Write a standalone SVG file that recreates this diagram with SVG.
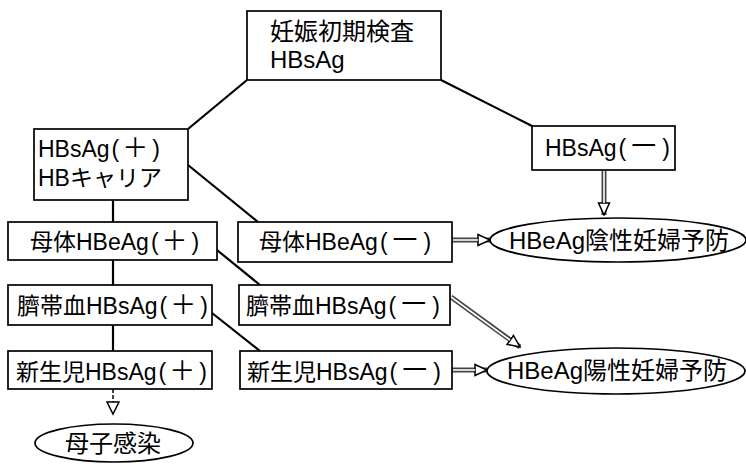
<svg xmlns="http://www.w3.org/2000/svg" width="746" height="464" viewBox="0 0 746 464">
<defs>
<style>
.box{fill:#fff;stroke:#000;stroke-width:1.7}
.el{fill:#fff;stroke:#000;stroke-width:1.7}
.t{font-family:"Liberation Sans","Noto Sans CJK JP",sans-serif;font-size:23px;fill:#000}
.tl{font-size:24px}
.S{font-size:26px}
.M{font-size:31px}
.ln{stroke:#000;stroke-width:2.2;fill:none}
.sh{stroke:#444;stroke-width:5;fill:none}
.shi{stroke:#fff;stroke-width:1.6;fill:none}
</style>
<marker id="ah" viewBox="0 0 14 14" refX="13" refY="7" markerWidth="14" markerHeight="14" markerUnits="userSpaceOnUse" orient="auto">
<path d="M1,1.5 L13,7 L1,12.5 Z" fill="#fff" stroke="#000" stroke-width="1.5"/>
</marker>
</defs>
<rect width="746" height="464" fill="#fff"/>
<g id="connectors">
<line class="ln" x1="247" y1="80" x2="188" y2="129"/>
<line class="ln" x1="441" y1="80" x2="532" y2="126"/>
<line class="ln" x1="188" y1="165" x2="258" y2="222"/>
<line class="ln" x1="113" y1="200" x2="113" y2="222"/>
<line class="ln" x1="212" y1="246" x2="260" y2="285"/>
<line class="ln" x1="113" y1="260" x2="113" y2="285"/>
<line class="ln" x1="212" y1="313" x2="260" y2="351"/>
<line class="ln" x1="113" y1="325" x2="113" y2="351"/>
<line class="sh" x1="604" y1="171" x2="604" y2="215" marker-end="url(#ah)"/>
<line class="shi" x1="604" y1="171" x2="604" y2="203"/>
<line class="sh" x1="452" y1="240" x2="490" y2="240" marker-end="url(#ah)"/>
<line class="shi" x1="452" y1="240" x2="478" y2="240"/>
<line class="sh" x1="451" y1="297" x2="520" y2="347" marker-end="url(#ah)"/>
<line class="shi" x1="451" y1="297" x2="510" y2="340"/>
<line class="sh" x1="452" y1="370" x2="487" y2="370" marker-end="url(#ah)"/>
<line class="shi" x1="452" y1="370" x2="475" y2="370"/>
<line stroke="#444" stroke-width="2" stroke-dasharray="4,2" x1="113" y1="389" x2="113" y2="403"/>
<path d="M107,402 L119,402 L113,414 Z" fill="#fff" stroke="#000" stroke-width="1.5"/>
</g>
<g id="n_top">
<rect class="box" x="247" y="11" width="194" height="69"/>
<text class="t tl" x="270" y="40">妊娠初期検査</text>
<text class="t tl" x="270" y="68">HBsAg</text>
</g>
<g id="n_pos">
<rect class="box" x="34" y="129" width="154" height="71"/>
<text class="t" x="38" y="157">HBsAg<tspan dx="2">(</tspan><tspan class="S" dx="3">＋</tspan><tspan dx="4">)</tspan></text>
<text class="t" x="38" y="186">HBキャリア</text>
</g>
<g id="n_neg">
<rect class="box" x="532" y="126" width="143" height="44"/>
<text class="t" x="545" y="156">HBsAg<tspan dx="2">(</tspan><tspan class="M" dx="2">－</tspan><tspan dx="3">)</tspan></text>
</g>
<g id="n_mpos">
<rect class="box" x="8" y="222" width="209" height="38"/>
<text class="t" x="30" y="250">母体HBeAg<tspan dx="2">(</tspan><tspan class="S" dx="3">＋</tspan><tspan dx="4">)</tspan></text>
</g>
<g id="n_mneg">
<rect class="box" x="238" y="222" width="214" height="40"/>
<text class="t" x="259" y="250">母体HBeAg<tspan dx="2">(</tspan><tspan class="M" dx="2">－</tspan><tspan dx="3">)</tspan></text>
</g>
<g id="n_cpos">
<rect class="box" x="8" y="285" width="204" height="40"/>
<text class="t" x="17" y="314">臍帯血HBsAg<tspan dx="2">(</tspan><tspan class="S" dx="3">＋</tspan><tspan dx="4">)</tspan></text>
</g>
<g id="n_cneg">
<rect class="box" x="239" y="285" width="211" height="40"/>
<text class="t" x="246" y="314">臍帯血HBsAg<tspan dx="2">(</tspan><tspan class="M" dx="2">－</tspan><tspan dx="3">)</tspan></text>
</g>
<g id="n_npos">
<rect class="box" x="8" y="351" width="204" height="38"/>
<text class="t" x="16" y="380">新生児HBsAg<tspan dx="2">(</tspan><tspan class="S" dx="3">＋</tspan><tspan dx="4">)</tspan></text>
</g>
<g id="n_nneg">
<rect class="box" x="240" y="351" width="212" height="38"/>
<text class="t" x="247" y="380">新生児HBsAg<tspan dx="2">(</tspan><tspan class="M" dx="2">－</tspan><tspan dx="3">)</tspan></text>
</g>
<g id="e_neg">
<ellipse class="el" cx="618" cy="240" rx="128" ry="22"/>
<text class="t tl" x="509" y="249">HBeAg陰性妊婦予防</text>
</g>
<g id="e_pos">
<ellipse class="el" cx="616" cy="371" rx="129" ry="23"/>
<text class="t tl" x="507" y="379">HBeAg陽性妊婦予防</text>
</g>
<g id="e_mc">
<ellipse class="el" cx="114" cy="443" rx="79" ry="19"/>
<text class="t tl" x="65" y="452">母子感染</text>
</g>
</svg>
